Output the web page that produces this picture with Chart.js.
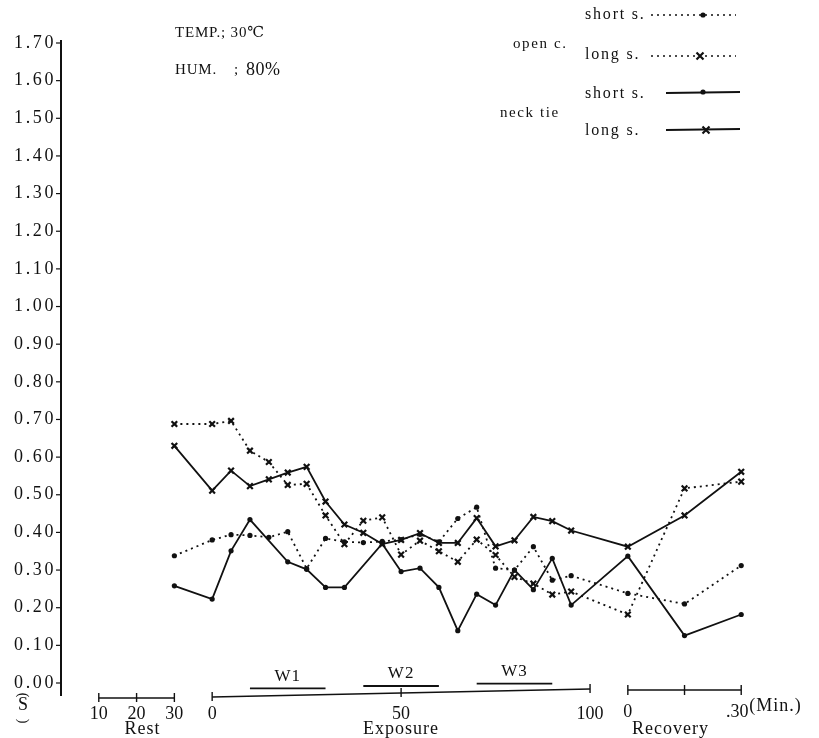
<!DOCTYPE html>
<html>
<head>
<meta charset="utf-8">
<script src="https://cdn.jsdelivr.net/npm/chart.js@4"></script>
<style>
  html, body { margin: 0; padding: 0; background: #fff; }
  #wrap { width: 819px; height: 738px; }
</style>
</head>
<body>
<div id="wrap"><canvas id="chart" width="819" height="738"></canvas></div>
<script>
// time axis: rest -30..-10, exposure 0..100, recovery 110..140 (minutes)
const minutes = [-10, 0, 5, 10, 15, 20, 25, 30, 35, 40, 45, 50, 55, 60, 65, 70, 75, 80, 85, 90, 95, 110, 125, 140];

const openShort = [0.338, 0.380, 0.394, 0.392, 0.387, 0.402, 0.304, 0.384, 0.375, 0.373, 0.376, 0.381, 0.395, 0.375, 0.437, 0.467, 0.305, 0.300, 0.362, 0.273, 0.285, 0.238, 0.210, 0.312];
const openLong  = [0.688, 0.688, 0.696, 0.617, 0.587, 0.526, 0.529, 0.445, 0.369, 0.431, 0.440, 0.341, 0.378, 0.350, 0.322, 0.381, 0.340, 0.282, 0.264, 0.235, 0.243, 0.182, 0.517, 0.535];
const neckShort = [0.258, 0.223, 0.351, 0.434, null, 0.322, 0.302, 0.254, 0.254, null, 0.370, 0.296, 0.305, 0.254, 0.139, 0.236, 0.207, 0.300, 0.248, 0.331, 0.207, 0.337, 0.126, 0.182];
const neckLong  = [0.630, 0.511, 0.564, 0.523, 0.541, 0.559, 0.574, 0.482, 0.421, 0.399, 0.369, 0.380, 0.398, 0.372, 0.372, 0.438, 0.363, 0.379, 0.441, 0.430, 0.405, 0.362, 0.445, 0.561];

const yTicks = [0, 0.1, 0.2, 0.3, 0.4, 0.5, 0.6, 0.7, 0.8, 0.9, 1.0, 1.1, 1.2, 1.3, 1.4, 1.5, 1.6, 1.7];

const restTicks = [-30, -20, -10];
const restLabels = ['10', '20', '30'];
const expTicks = [0, 50, 100];
const expLabels = ['0', '50', '100'];
const recTicks = [110, 125, 140];
const recLabels = ['0', '', '.30'];

const workStart = [10, 40, 70];
const workEnd = [30, 60, 90];
const workLabels = ['W1', 'W2', 'W3'];

const SERIF = '"Liberation Serif", "DejaVu Serif", serif';
const DOTS = [2, 4];

function pts(arr) {
  return minutes.map((m, i) => ({ x: m, y: arr[i] }));
}

function txt(ctx, s, x, y, size, align, spacing) {
  ctx.font = size + 'px ' + SERIF;
  ctx.letterSpacing = (spacing || 0) + 'px';
  ctx.textAlign = align || 'left';
  ctx.textBaseline = 'middle';
  ctx.fillText(s, x, y);
  ctx.letterSpacing = '0px';
}

function seg(ctx, x1, y1, x2, y2, w, dash) {
  ctx.save();
  ctx.lineWidth = w;
  ctx.setLineDash(dash || []);
  ctx.beginPath();
  ctx.moveTo(x1, y1);
  ctx.lineTo(x2, y2);
  ctx.stroke();
  ctx.restore();
}

function dot(ctx, x, y) {
  ctx.beginPath();
  ctx.arc(x, y, 2.6, 0, Math.PI * 2);
  ctx.fill();
}

function cross(ctx, x, y) {
  ctx.save();
  ctx.lineWidth = 2.2;
  ctx.beginPath();
  ctx.moveTo(x - 3.5, y - 3.5); ctx.lineTo(x + 3.5, y + 3.5);
  ctx.moveTo(x + 3.5, y - 3.5); ctx.lineTo(x - 3.5, y + 3.5);
  ctx.stroke();
  ctx.restore();
}

const decor = {
  id: 'decor',
  afterDraw(chart) {
    const { ctx, scales: { x, y } } = chart;
    ctx.save();
    ctx.fillStyle = '#111';
    ctx.strokeStyle = '#111';

    // y axis
    const ax = x.getPixelForValue(-40);
    seg(ctx, ax, y.getPixelForValue(1.7) - 3, ax, y.getPixelForValue(0) + 13, 2);
    yTicks.forEach(v => {
      const py = y.getPixelForValue(v);
      seg(ctx, ax - 5, py, ax, py, 1.2);
      txt(ctx, v.toFixed(2), ax - 5, py, 18, 'right', 2.6);
    });
    // unit (S), written vertically
    ctx.save();
    ctx.translate(23, 695);
    ctx.rotate(Math.PI / 2);
    txt(ctx, '(', 0, 0, 14, 'center');
    ctx.restore();
    txt(ctx, 'S', 23, 705, 18, 'center');
    ctx.save();
    ctx.translate(23, 721);
    ctx.rotate(Math.PI / 2);
    txt(ctx, ')', 0, 0, 14, 'center');
    ctx.restore();

    // rest bar
    const px = v => x.getPixelForValue(v);
    seg(ctx, px(-30), 698, px(-10), 698, 1.6);
    restTicks.forEach((v, i) => {
      seg(ctx, px(v), 693, px(v), 702, 1.4);
      txt(ctx, restLabels[i], px(v), 714, 18, 'center');
    });
    txt(ctx, 'Rest', px(-20) + 6, 729, 18, 'center', 1);

    // exposure bar (slightly tilted like the scan)
    const ey = v => 697 - 8 * v / 100;
    seg(ctx, px(0), ey(0), px(100), ey(100), 1.6);
    expTicks.forEach((v, i) => {
      seg(ctx, px(v), ey(v) - 5, px(v), ey(v) + 4, 1.4);
      txt(ctx, expLabels[i], px(v), 714, 18, 'center');
    });
    txt(ctx, 'Exposure', px(50), 729, 18, 'center', 1);

    // work periods
    workLabels.forEach((s, i) => {
      const wy = ey((workStart[i] + workEnd[i]) / 2) - 7;
      seg(ctx, px(workStart[i]), wy, px(workEnd[i]), wy, 1.8);
      txt(ctx, s, px((workStart[i] + workEnd[i]) / 2), wy - 12, 17, 'center', 1);
    });

    // recovery bar
    seg(ctx, px(110), 690, px(140), 690, 1.6);
    recTicks.forEach((v, i) => {
      seg(ctx, px(v), 685, px(v), 695, 1.4);
      if (recLabels[i]) txt(ctx, recLabels[i], px(v) - (i === 2 ? 4 : 0), 712, 18, 'center');
    });
    txt(ctx, '(Min.)', px(140) + 8, 706, 18, 'left', 1);
    txt(ctx, 'Recovery', px(125) - 14, 729, 18, 'center', 1);

    // conditions
    txt(ctx, 'TEMP.; 30\u2103', 175, 33, 15, 'left', 0.8);
    txt(ctx, 'HUM.', 175, 70, 15, 'left', 0.8);
    txt(ctx, ';', 234, 70, 15, 'left');
    txt(ctx, '80%', 246, 70, 18, 'left', 0.5);

    // legend
    txt(ctx, 'open c.', 513, 44, 15, 'left', 1.6);
    txt(ctx, 'neck tie', 500, 113, 15, 'left', 1.6);
    txt(ctx, 'short s.', 585, 15, 16, 'left', 1.8);
    txt(ctx, 'long s.', 585, 55, 16, 'left', 1.8);
    txt(ctx, 'short s.', 585, 94, 16, 'left', 1.8);
    txt(ctx, 'long s.', 585, 131, 16, 'left', 1.8);
    seg(ctx, 651, 15, 736, 15, 1.6, DOTS);
    dot(ctx, 703, 15);
    seg(ctx, 651, 56, 736, 56, 1.6, DOTS);
    cross(ctx, 700, 56);
    seg(ctx, 666, 93, 740, 92, 1.8);
    dot(ctx, 703, 92);
    seg(ctx, 666, 130, 740, 129, 1.8);
    cross(ctx, 706, 130);

    ctx.restore();
  }
};

const base = {
  borderColor: '#111',
  backgroundColor: '#111',
  pointBackgroundColor: '#111',
  pointBorderColor: '#111',
  spanGaps: true,
  tension: 0,
  clip: false
};

new Chart(document.getElementById('chart'), {
  type: 'line',
  data: {
    datasets: [
      Object.assign({}, base, {
        label: 'open c. short s.', data: pts(openShort),
        borderWidth: 1.8, borderDash: DOTS, pointStyle: 'circle', pointRadius: 2.6, pointBorderWidth: 0
      }),
      Object.assign({}, base, {
        label: 'open c. long s.', data: pts(openLong),
        borderWidth: 1.8, borderDash: DOTS, pointStyle: 'crossRot', pointRadius: 4, pointBorderWidth: 2.2
      }),
      Object.assign({}, base, {
        label: 'neck tie short s.', data: pts(neckShort),
        borderWidth: 1.8, pointStyle: 'circle', pointRadius: 2.6, pointBorderWidth: 0
      }),
      Object.assign({}, base, {
        label: 'neck tie long s.', data: pts(neckLong),
        borderWidth: 1.8, pointStyle: 'crossRot', pointRadius: 4, pointBorderWidth: 2.2
      })
    ]
  },
  options: {
    responsive: false,
    animation: false,
    layout: { padding: { left: 61, right: 40, top: 43, bottom: 55 } },
    plugins: { legend: { display: false }, tooltip: { enabled: false } },
    scales: {
      x: { type: 'linear', min: -40, max: 150, display: false },
      y: { min: 0, max: 1.7, display: false }
    }
  },
  plugins: [decor]
});
</script>
</body>
</html>
